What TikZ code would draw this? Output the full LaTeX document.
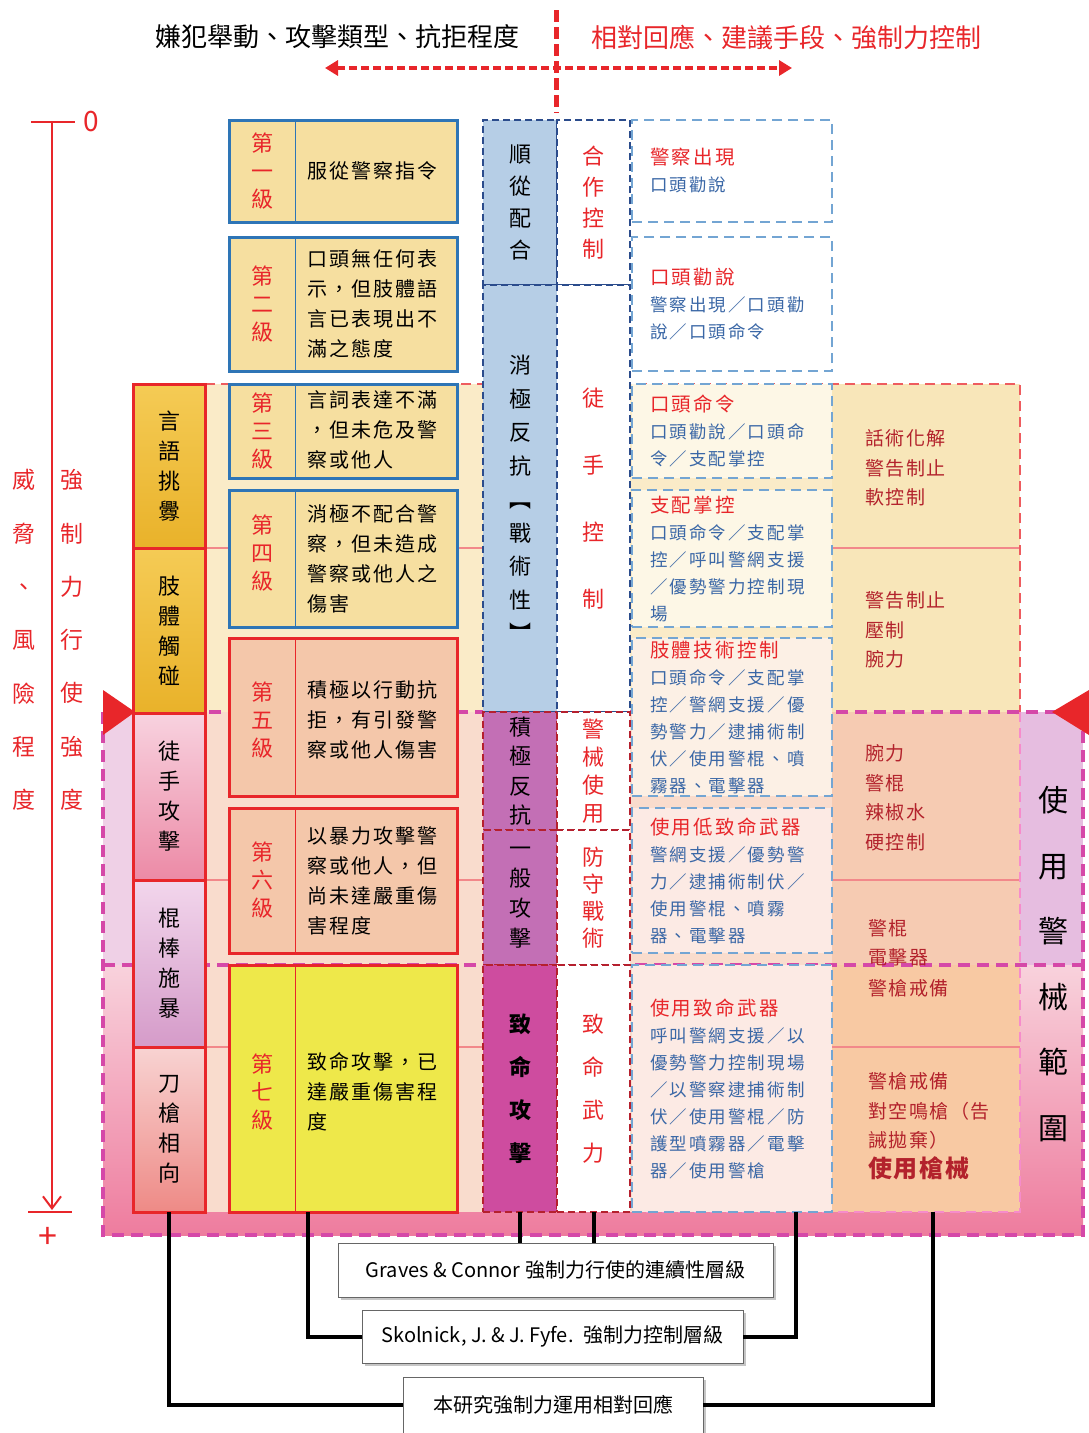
\documentclass[tikz,border=0pt]{standalone}
\usepackage{fontspec}
\setmainfont{Noto Sans CJK TC}
\usetikzlibrary{arrows.meta,shadows}

\definecolor{zred}{HTML}{E8262A}
\definecolor{fred}{HTML}{B3222C}
\definecolor{lvblue}{HTML}{2E75B6}
\definecolor{navy}{HTML}{2B4C8C}
\definecolor{dred}{HTML}{B5202E}
\definecolor{eblue}{HTML}{73A5D3}
\definecolor{etext}{HTML}{3A67A6}
\definecolor{lvtan}{HTML}{F6DFA0}
\definecolor{lvpeach}{HTML}{F4C7AA}
\definecolor{lvyel}{HTML}{EEE84A}
\definecolor{cblue}{HTML}{B6CEE6}
\definecolor{cpurp}{HTML}{C36FB5}
\definecolor{cmag}{HTML}{CE4C9F}
\definecolor{tanband}{HTML}{FAEBC8}
\definecolor{pinklav}{HTML}{EFD0E6}
\definecolor{pinktop}{HTML}{F8D2DC}
\definecolor{pinkbot}{HTML}{EE7C9E}
\definecolor{peachin}{HTML}{F9DCCD}
\definecolor{ftan}{HTML}{F8E6B9}
\definecolor{fpeach}{HTML}{F6CBB2}
\definecolor{forange}{HTML}{F8C9A3}
\definecolor{efillT}{HTML}{FDF7E6}
\definecolor{efillP}{HTML}{FCEAE4}
\definecolor{rlav}{HTML}{E6BDE0}
\definecolor{odash}{HTML}{D548A8}
\definecolor{goldA}{HTML}{F5CB55}
\definecolor{goldB}{HTML}{E9B22A}
\definecolor{pinkA}{HTML}{F8D2DF}
\definecolor{pinkB}{HTML}{EC8AA6}
\definecolor{lilA}{HTML}{F2D6EC}
\definecolor{lilB}{HTML}{D59BC9}
\definecolor{roseA}{HTML}{F8D3D2}
\definecolor{roseB}{HTML}{EE8A86}

\newcommand\ehead[1]{\textcolor{zred}{\fontsize{19.5}{27}\selectfont #1}}

\tikzset{
  every node/.style={inner sep=0pt, outer sep=0pt},
  catbox/.style={draw=zred, line width=3pt, minimum width=72pt, align=center,
                 font=\fontsize{22}{30}\selectfont},
  lvbox/.style={line width=3pt, minimum width=228pt},
  lvtag/.style={text=zred, align=center, font=\fontsize{22}{28}\selectfont},
  lvtxt/.style={align=left, text width=138pt,
                font=\fontsize{20}{30}\selectfont\addfontfeature{LetterSpace=10}},
  cbox/.style={line width=2.5pt, dash pattern=on 7pt off 4pt, minimum width=74pt, align=center},
  dbox/.style={line width=2.5pt, dash pattern=on 7pt off 4pt, minimum width=73pt, align=center,
               text=zred, fill=white},
  ebox/.style={draw=eblue, line width=2pt, dash pattern=on 10pt off 6pt, minimum width=200pt,
               text width=164pt, align=left, text=etext,
               font=\fontsize{17.5}{27}\selectfont\addfontfeature{LetterSpace=12}},
  ftxt/.style={anchor=west, align=left, text=fred,
               font=\fontsize{19}{29.5}\selectfont\addfontfeature{LetterSpace=8}},
  scaletxt/.style={text=zred, align=center, font=\fontsize{23}{53.3}\selectfont},
  banddash/.style={draw=#1, line width=2.5pt, dash pattern=on 10pt off 6pt},
  pale/.style={draw=zred!55, line width=1.5pt},
  link/.style={line width=4pt, black},
  botbox/.style={draw=black!60, line width=1pt, fill=white,
                 drop shadow={opacity=0.45, shadow xshift=3pt, shadow yshift=-3pt},
                 font=\fontsize{20}{24}\selectfont}
}

\begin{document}
\begin{tikzpicture}[x=1pt, y=-1pt]
\useasboundingbox (0,0) rectangle (1089,1433);

\fill[tanband] (133,384) rectangle (1020,712);
\fill[pinklav] (103,712) rectangle (1083,965);
\shade[top color=pinktop, bottom color=pinkbot] (103,965) rectangle (1083,1235);
\fill[peachin] (133,712) rectangle (1020,1212);
\fill[rlav] (1020,712) rectangle (1083,965);
\fill[ftan] (832,384) rectangle (1020,712);
\fill[fpeach] (832,712) rectangle (1020,965);
\fill[forange] (832,965) rectangle (1020,1212);

\draw[pale] (205,548) -- (1020,548);
\draw[pale] (205,880) -- (1020,880);
\draw[pale] (205,1047) -- (1020,1047);
\draw[banddash=zred!75] (205,384) -- (1020,384) -- (1020,712);
\draw[banddash=magenta!45] (1020,712) -- (1020,1212) -- (632,1212);
\draw[banddash=odash, line width=3.5pt, dash pattern=on 12pt off 7pt]
    (103,712) rectangle (1083,1235)
    (103,965) -- (1083,965);

\node[scaletxt] (threat) at (24,640) {威\\脅\\、\\風\\險\\程\\度};
\node[scaletxt] (force)  at (72,640) {強\\制\\力\\行\\使\\強\\度};

\node[catbox, minimum height=164pt, top color=goldA, bottom color=goldB]
    (a1) at (169,466)    {言\\語\\挑\\釁};
\node[catbox, minimum height=165pt, top color=goldA, bottom color=goldB]
    (a2) at (169,630.5)  {肢\\體\\觸\\碰};
\node[catbox, minimum height=167pt, top color=pinkA, bottom color=pinkB]
    (a3) at (169,796.5)  {徒\\手\\攻\\擊};
\node[catbox, minimum height=167pt, top color=lilA, bottom color=lilB]
    (a4) at (169,963.5)  {棍\\棒\\施\\暴};
\node[catbox, minimum height=165pt, top color=roseA, bottom color=roseB]
    (a5) at (169,1129.5) {刀\\槍\\相\\向};

\node[lvbox, draw=lvblue, fill=lvtan, minimum height=102pt] (lv1) at (343,171) {};
\node[lvtag] (lv1t) at (262,171) {第\\一\\級};
\node[lvtxt] (lv1d) at (376,171) {服從警察指令};
\node[lvbox, draw=lvblue, fill=lvtan, minimum height=134pt] (lv2) at (343,304) {};
\node[lvtag] (lv2t) at (262,304) {第\\二\\級};
\node[lvtxt] (lv2d) at (376,304) {口頭無任何表\\示，但肢體語\\言已表現出不\\滿之態度};
\node[lvbox, draw=lvblue, fill=lvtan, minimum height=94pt] (lv3) at (343,431) {};
\node[lvtag] (lv3t) at (262,431) {第\\三\\級};
\node[lvtxt] (lv3d) at (376,430) {言詞表達不滿\\，但未危及警\\察或他人};
\node[lvbox, draw=lvblue, fill=lvtan, minimum height=137pt] (lv4) at (343,558.5) {};
\node[lvtag] (lv4t) at (262,553) {第\\四\\級};
\node[lvtxt] (lv4d) at (376,558.5) {消極不配合警\\察，但未造成\\警察或他人之\\傷害};
\node[lvbox, draw=zred, fill=lvpeach, minimum height=158pt] (lv5) at (343,717) {};
\node[lvtag] (lv5t) at (262,720) {第\\五\\級};
\node[lvtxt] (lv5d) at (376,720) {積極以行動抗\\拒，有引發警\\察或他人傷害};
\node[lvbox, draw=zred, fill=lvpeach, minimum height=145pt] (lv6) at (343,880.5) {};
\node[lvtag] (lv6t) at (262,880) {第\\六\\級};
\node[lvtxt] (lv6d) at (376,880.5) {以暴力攻擊警\\察或他人，但\\尚未達嚴重傷\\害程度};
\node[lvbox, draw=zred, fill=lvyel, minimum height=247pt] (lv7) at (343,1088.5) {};
\node[lvtag] (lv7t) at (262,1092) {第\\七\\級};
\node[lvtxt] (lv7d) at (376,1092) {致命攻擊，已\\達嚴重傷害程\\度};
\foreach \n in {1,...,4}
  \draw[lvblue, line width=0.8pt] (lv\n.north -| 295,0) -- (lv\n.south -| 295,0);
\foreach \n in {5,6,7}
  \draw[zred, line width=0.8pt] (lv\n.north -| 295,0) -- (lv\n.south -| 295,0);

\node[cbox, draw=navy, fill=cblue, minimum height=165pt, font=\fontsize{22}{32}\selectfont]
    (c1) at (520,202.5) {順\\從\\配\\合};
\node[cbox, draw=navy, fill=cblue, minimum height=427pt, font=\fontsize{22}{33.5}\selectfont]
    (c2) at (520,498.5) {消\\極\\反\\抗\\︻\\戰\\術\\性\\︼};
\node[cbox, draw=dred, fill=cpurp, minimum height=118pt, font=\fontsize{22}{29.5}\selectfont]
    (c3) at (520,771) {積\\極\\反\\抗};
\node[cbox, draw=dred, fill=cpurp, minimum height=135pt, font=\fontsize{22}{30}\selectfont]
    (c4) at (520,897.5) {一\\般\\攻\\擊};
\node[cbox, draw=dred, fill=cmag, minimum height=247pt, font=\fontsize{22}{43}\selectfont\bfseries]
    (c5) at (520,1088.5) {致\\命\\攻\\擊};

\node[dbox, draw=navy, minimum height=165pt, font=\fontsize{22}{31}\selectfont]
    (d1) at (593.5,202.5) {合\\作\\控\\制};
\node[dbox, draw=navy, minimum height=427pt, font=\fontsize{22}{67}\selectfont]
    (d2) at (593.5,498.5) {徒\\手\\控\\制};
\node[dbox, draw=dred, minimum height=118pt, font=\fontsize{22}{28}\selectfont]
    (d3) at (593.5,771) {警\\械\\使\\用};
\node[dbox, draw=dred, minimum height=135pt, font=\fontsize{22}{27}\selectfont]
    (d4) at (593.5,897.5) {防\\守\\戰\\術};
\node[dbox, draw=dred, minimum height=247pt, font=\fontsize{22}{43}\selectfont]
    (d5) at (593.5,1088.5) {致\\命\\武\\力};

\node[ebox, fill=white, minimum height=102pt] (e1) at (732,171)
    {\ehead{警察出現}\\口頭勸說};
\node[ebox, fill=white, minimum height=134pt] (e2) at (732,304)
    {\ehead{口頭勸說}\\警察出現／口頭勸\\說／口頭命令};
\node[ebox, fill=efillT, minimum height=94pt] (e3) at (732,431)
    {\ehead{口頭命令}\\口頭勸說／口頭命\\令／支配掌控};
\node[ebox, fill=efillT, minimum height=137pt] (e4) at (732,558.5)
    {\ehead{支配掌控}\\口頭命令／支配掌\\控／呼叫警網支援\\／優勢警力控制現\\場};
\node[ebox, fill=efillP!50!efillT, minimum height=158pt] (e5) at (732,717)
    {\ehead{肢體技術控制}\\口頭命令／支配掌\\控／警網支援／優\\勢警力／逮捕術制\\伏／使用警棍、噴\\霧器、電擊器};
\node[ebox, fill=efillP, minimum height=145pt] (e6) at (732,880.5)
    {\ehead{使用低致命武器}\\警網支援／優勢警\\力／逮捕術制伏／\\使用警棍、噴霧\\器、電擊器};
\node[ebox, fill=efillP, minimum height=247pt] (e7) at (732,1088.5)
    {\ehead{使用致命武器}\\呼叫警網支援／以\\優勢警力控制現場\\／以警察逮捕術制\\伏／使用警棍／防\\護型噴霧器／電擊\\器／使用警槍};

\node[ftxt] (f1) at (865,468)  {話術化解\\警告制止\\軟控制};
\node[ftxt] (f2) at (865,630)  {警告制止\\壓制\\腕力};
\node[ftxt] (f3) at (865,798)  {腕力\\警棍\\辣椒水\\硬控制};
\node[ftxt] (f4) at (868,943)  {警棍\\電擊器};
\node[ftxt] (f5) at (868,988)  {警槍戒備};
\node[ftxt] (f6) at (868,1126) {警槍戒備\\對空鳴槍（告\\誡拋棄）\\{\fontsize{24}{30}\selectfont\bfseries 使用槍械}};

\node[align=center, font=\fontsize{30}{65.6}\selectfont] (range) at (1053,964)
    {使\\用\\警\\械\\範\\圍};

\fill[zred] (103,690) -- (135,712) -- (103,735) -- cycle;
\fill[zred] (1089,690) -- (1052,712) -- (1089,735) -- cycle;

\node[font=\fontsize{26}{30}\selectfont] (lhead) at (337,37) {嫌犯舉動、攻擊類型、抗拒程度};
\node[font=\fontsize{26}{30}\selectfont, text=zred] (rhead) at (786,37) {相對回應、建議手段、強制力控制};
\coordinate (vtop) at (556,10);
\coordinate (vbot) at (556,113);
\coordinate (arrl) at (325,68);
\coordinate (arrr) at (792,68);
\draw[zred, line width=5pt, dash pattern=on 12pt off 5pt] (vtop) -- (vbot);
\draw[zred, line width=3.5pt, dash pattern=on 8pt off 4pt,
      {Triangle[length=13pt,width=15pt]}-{Triangle[length=13pt,width=15pt]}] (arrl) -- (arrr);

\coordinate (stop) at (52,122);
\coordinate (sbot) at (52,1210);
\draw[zred, line width=2pt] (31,122) -- (75,122);
\draw[zred, line width=2pt, -{Straight Barb[length=12pt,width=18pt]}] (stop) -- (sbot);
\draw[zred, line width=2pt] (28,1212) -- (72,1212);
\node[text=zred, font=\fontsize{28}{30}\selectfont] (zero) at (91,122) {0};
\node[text=zred, font=\fontsize{34}{34}\selectfont] (plus) at (48,1238) {+};

\node[botbox, minimum width=435pt, minimum height=54pt] (graves) at (555.5,1270)
    {Graves \& Connor 強制力行使的連續性層級};
\node[botbox, minimum width=381pt, minimum height=53pt] (skol) at (552.5,1336.5)
    {Skolnick, J. \& J. Fyfe.\enspace 強制力控制層級};
\node[botbox, minimum width=300pt, minimum height=56pt] (benyan) at (553,1405)
    {本研究強制力運用相對回應};

\draw[link] (c5.south) -- (c5.south |- graves.north);
\draw[link] (d5.south) -- (d5.south |- graves.north);
\draw[link] (lv7.south -| 308,0) |- (skol.west);
\draw[link] (e7.south -| 796,0) |- (skol.east);
\draw[link] (a5.south) |- (benyan.west);
\draw[link] (e7.south -| 933,0) |- (benyan.east);
\end{tikzpicture}
\end{document}
